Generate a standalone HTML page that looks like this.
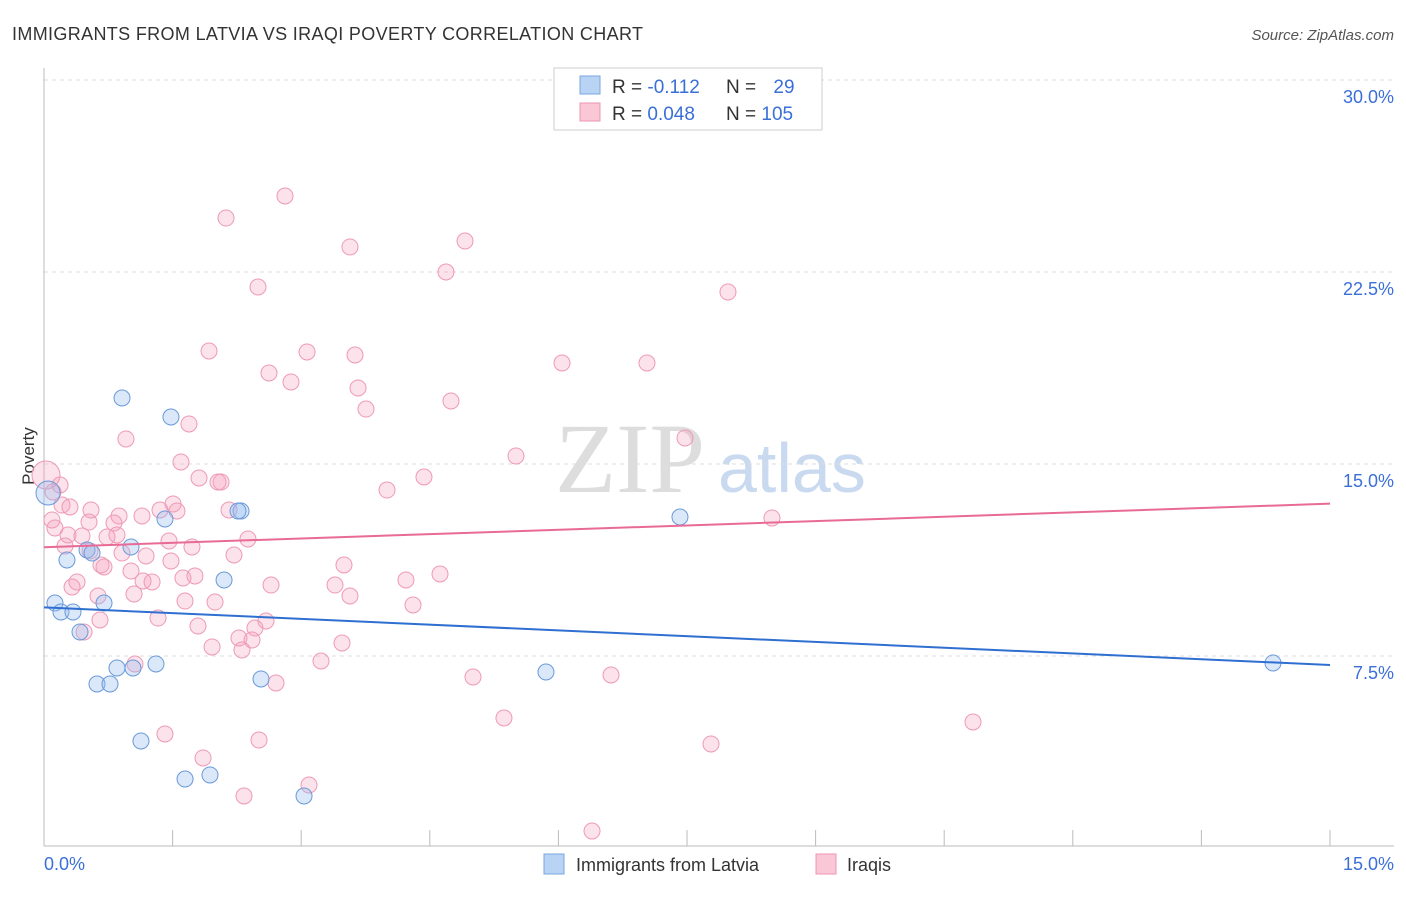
<!DOCTYPE html>
<html><head><meta charset="utf-8"><style>
body{margin:0;background:#fff;font-family:"Liberation Sans",sans-serif;}
</style></head><body>
<svg width="1406" height="892" xmlns="http://www.w3.org/2000/svg" font-family="Liberation Sans, sans-serif">
<text x="12" y="40" font-size="18" fill="#333" textLength="631">IMMIGRANTS FROM LATVIA VS IRAQI POVERTY CORRELATION CHART</text>
<text x="1394" y="40" font-size="15" fill="#555" font-style="italic" text-anchor="end">Source: ZipAtlas.com</text>
<text x="555" y="492" font-size="100" fill="#ddd" font-family="Liberation Serif, serif">ZIP</text>
<text x="718" y="492" font-size="70" fill="#c9d9ef">atlas</text>
<g id="grid"></g>
<line x1="44" y1="68" x2="44" y2="846" stroke="#bbb"/>
<line x1="44" y1="846" x2="1394" y2="846" stroke="#bbb"/>
<text x="34" y="456" font-size="17" fill="#333" transform="rotate(-90 34 456)" text-anchor="middle">Poverty</text>
<text x="44" y="870" font-size="18" fill="#3a6fd8">0.0%</text>
<text x="1394" y="870" font-size="18" fill="#3a6fd8" text-anchor="end">15.0%</text>
<g id="pts"></g>
<g id="lines"></g>
<rect x="554" y="68" width="268" height="62" fill="#fff" stroke="#ccc"/>
<rect x="580" y="76" width="20" height="18" fill="#b8d3f3" stroke="#7aa7e0"/>
<rect x="580" y="103" width="20" height="18" fill="#f9c7d6" stroke="#ec94b0"/>
<text x="612" y="93" font-size="19" fill="#333">R = <tspan fill="#3a6fd8">-0.112</tspan></text>
<text x="726" y="93" font-size="19" fill="#333">N = <tspan fill="#3a6fd8" dx="12">29</tspan></text>
<text x="612" y="120" font-size="19" fill="#333">R = <tspan fill="#3a6fd8">0.048</tspan></text>
<text x="726" y="120" font-size="19" fill="#333">N = <tspan fill="#3a6fd8">105</tspan></text>
<rect x="544" y="854" width="20" height="20" fill="#b8d3f3" stroke="#7aa7e0"/>
<text x="576" y="871" font-size="18" fill="#333">Immigrants from Latvia</text>
<rect x="816" y="854" width="20" height="20" fill="#f9c7d6" stroke="#ec94b0"/>
<text x="847" y="871" font-size="18" fill="#333">Iraqis</text>
</svg>
<script>
const yTicks=[30,22.5,15,7.5];
const yTickLabels=["30.0%","22.5%","15.0%","7.5%"];
const xTicks=[1.5,3,4.5,6,7.5,9,10.5,12,13.5,15];
const latviaPx=[[122,398],[171,417],[55,603],[61,612],[73,612],[67,560],[87,550],[92,553],[80,632],[104,603],[131,547],[165,519],[241,511],[238,511],[224,580],[117,668],[133,668],[156,664],[97,684],[110,684],[141,741],[185,779],[210,775],[304,796],[261,679],[546,672],[680,517],[1273,663],[48,493]];
const iraqiPx=[[285,196],[226,218],[350,247],[465,241],[446,272],[258,287],[728,292],[209,351],[307,352],[355,355],[562,363],[647,363],[269,373],[291,382],[358,388],[451,401],[366,409],[189,424],[126,439],[685,438],[516,456],[181,462],[424,477],[199,478],[221,482],[218,482],[387,490],[60,485],[53,492],[62,505],[70,507],[91,510],[160,510],[173,504],[177,511],[119,516],[142,516],[229,510],[52,520],[89,522],[114,523],[55,528],[772,518],[68,535],[82,536],[107,537],[117,535],[169,541],[248,539],[65,546],[90,551],[122,553],[192,547],[234,555],[146,556],[171,561],[344,565],[101,565],[131,571],[104,567],[77,582],[143,581],[152,582],[183,578],[195,576],[271,585],[335,585],[406,580],[440,574],[72,587],[98,596],[134,594],[350,596],[185,601],[215,602],[413,605],[100,620],[158,618],[198,626],[266,621],[255,628],[239,638],[252,640],[84,632],[212,647],[242,650],[342,643],[135,664],[321,661],[473,677],[611,675],[276,683],[504,718],[973,722],[165,734],[259,740],[711,744],[203,758],[309,785],[244,796],[592,831],[46,475]];
const latviaX=latviaPx.map(p=>+((p[0]-44)/1286*15).toFixed(3));
const latviaY=latviaPx.map(p=>+(30-(p[1]-80)/25.6).toFixed(3));
const iraqiX=iraqiPx.map(p=>+((p[0]-44)/1286*15).toFixed(3));
const iraqiY=iraqiPx.map(p=>+(30-(p[1]-80)/25.6).toFixed(3));
const latviaTrend=[9.4,7.15];
const iraqiTrend=[11.75,13.45];
const xs=v=>44+v/15*1286, ys=v=>80+(30-v)*25.6;
const NS="http://www.w3.org/2000/svg";
function mk(t,a,parent){const e=document.createElementNS(NS,t);for(const k in a)e.setAttribute(k,a[k]);document.getElementById(parent).appendChild(e);return e;}
yTicks.forEach((v,i)=>{
 const l=mk('line',{x1:44,x2:1394,y1:ys(v),y2:ys(v),stroke:'#ddd','stroke-dasharray':'4,4'},'grid');
 
 
 const t=mk('text',{x:1394,y:ys(v)+23,'font-size':18,fill:'#3a6fd8','text-anchor':'end'},'grid');
 t.textContent=yTickLabels[i];
 
 
});
xTicks.forEach(v=>{
 const l=mk('line',{x1:xs(v),x2:xs(v),y1:830,y2:846,stroke:'#bbb'},'grid');
 
 
});
iraqiX.forEach((x,i)=>{
 const c=mk('circle',{cx:xs(x),cy:ys(iraqiY[i]),r:i==iraqiX.length-1?14:8,fill:'rgba(244,160,188,0.3)',stroke:'#ee9ab5','stroke-width':1},'pts');
 
 
});
latviaX.forEach((x,i)=>{
 const c=mk('circle',{cx:xs(x),cy:ys(latviaY[i]),r:i==latviaX.length-1?12:8,fill:'rgba(150,190,240,0.35)',stroke:'#6a9ad8','stroke-width':1},'pts');
 
 
});
const bl=mk('line',{x1:xs(0),x2:xs(15),y1:ys(latviaTrend[0]),y2:ys(latviaTrend[1]),stroke:'#2f6fd0','stroke-width':2},'lines');


const pl=mk('line',{x1:xs(0),x2:xs(15),y1:ys(iraqiTrend[0]),y2:ys(iraqiTrend[1]),stroke:'#e86a96','stroke-width':2},'lines');


</script>
</body></html>
